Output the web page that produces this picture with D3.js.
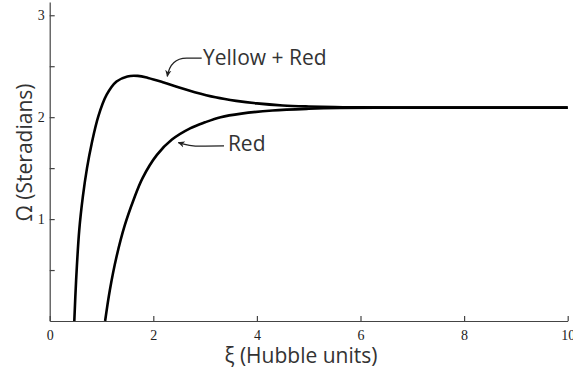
<!DOCTYPE html>
<html>
<head>
<meta charset="utf-8">
<script src="https://cdn.jsdelivr.net/npm/d3@7"></script>
<style>
  body { margin: 0; background: #fff; }
  .axis path, .axis line { stroke: #444; stroke-width: 1.2px; }
  .axis text { font-family: "Liberation Serif", serif; font-size: 14px; fill: #222; }
  .label { font-family: "Open Sans", sans-serif; font-size: 21px; fill: #333; }
</style>
</head>
<body>
<div class="root"></div>
<script>
// Yellow + Red curve
const xiYellowRed = [0.475, 0.51, 0.57, 0.64, 0.72, 0.81, 0.94, 1.10, 1.29, 1.50, 1.70, 1.90,
                     2.20, 2.50, 2.80, 3.20, 3.60, 4.00, 4.50, 5.00, 5.50, 6.00, 7.00, 8.00, 9.00, 10.00];
const omegaYellowRed = [0, 0.40, 0.89, 1.22, 1.50, 1.74, 2.01, 2.22, 2.35, 2.40, 2.405, 2.385,
                        2.34, 2.29, 2.245, 2.195, 2.16, 2.135, 2.115, 2.105, 2.099, 2.096, 2.094, 2.094, 2.094, 2.094];

// Red curve
const xiRed = [1.07, 1.16, 1.29, 1.45, 1.62, 1.79, 2.07, 2.36, 2.71, 3.00, 3.30, 3.70,
               4.30, 5.00, 5.60, 6.50, 7.50, 8.50, 10.00];
const omegaRed = [0, 0.30, 0.63, 0.94, 1.19, 1.40, 1.63, 1.78, 1.89, 1.95, 2.00, 2.035,
                  2.065, 2.082, 2.09, 2.094, 2.094, 2.094, 2.094];

// ticks
const xTicks = [0, 2, 4, 6, 8, 10];
const yTicks = [0.5, 1, 1.5, 2, 2.5, 3];
const yLabelled = [1, 2, 3];

const w = 573;
const h = 370;

const svg = d3.select(".root")
              .append("svg")
              .attr("width", w)
              .attr("height", h);

const xScale = d3.scaleLinear()
                 .domain([0, 10])
                 .range([49.7, 567.7]);

const yScale = d3.scaleLinear()
                 .domain([0, 3.13])
                 .range([321, 2]);

// arrow head for the call-outs
svg.append("defs")
   .append("marker")
   .attr("id", "arrow")
   .attr("viewBox", "0 0 10 10")
   .attr("refX", 9)
   .attr("refY", 5)
   .attr("markerWidth", 7)
   .attr("markerHeight", 7)
   .attr("markerUnits", "userSpaceOnUse")
   .attr("orient", "auto")
   .append("path")
   .attr("d", "M0,0.5 L10,5 L0,9.5 L3,5 z")
   .attr("fill", "#222");

// Add x Axis
const xAxis = d3.axisBottom(xScale)
                .tickValues(xTicks)
                .tickSize(-5)
                .tickSizeOuter(0)
                .tickPadding(9)
                .tickFormat(d3.format("d"));

svg.append("g")
   .attr("class", "axis")
   .attr("transform", "translate(0," + yScale(0) + ")")
   .call(xAxis);

// Add y Axis
const yAxis = d3.axisLeft(yScale)
                .tickValues(yTicks)
                .tickSize(-5)
                .tickSizeOuter(0)
                .tickPadding(5)
                .tickFormat((d) => yLabelled.includes(d) ? d : "");

svg.append("g")
   .attr("class", "axis")
   .attr("transform", "translate(" + xScale(0) + ",0)")
   .call(yAxis);

// curves
const line = d3.line()
               .x((d) => xScale(d[0]))
               .y((d) => yScale(d[1]))
               .curve(d3.curveCatmullRom.alpha(0.5));

const series = [
  d3.zip(xiYellowRed, omegaYellowRed),
  d3.zip(xiRed, omegaRed)
];

svg.selectAll(".curve")
   .data(series)
   .enter()
   .append("path")
   .attr("class", "curve")
   .attr("d", line)
   .attr("fill", "none")
   .attr("stroke", "#000")
   .attr("stroke-width", 2.6);

// call-outs
const callouts = [
  { text: "Yellow + Red", tx: 2.96, ty: 2.514, from: [2.934, 2.58], corner: [2.645, 2.58], ctrl: [2.33, 2.58], tip: [2.27, 2.40] },
  { text: "Red", tx: 3.44, ty: 1.67, from: [3.365, 1.718], corner: [3.0, 1.716], ctrl: [2.72, 1.71], tip: [2.483, 1.751] }
];

callouts.forEach((c) => {
  const p = d3.path();
  p.moveTo(xScale(c.from[0]), yScale(c.from[1]));
  p.lineTo(xScale(c.corner[0]), yScale(c.corner[1]));
  p.quadraticCurveTo(xScale(c.ctrl[0]), yScale(c.ctrl[1]), xScale(c.tip[0]), yScale(c.tip[1]));

  svg.append("path")
     .attr("d", p.toString())
     .attr("fill", "none")
     .attr("stroke", "#222")
     .attr("stroke-width", 1.3)
     .attr("marker-end", "url(#arrow)");

  svg.append("text")
     .attr("class", "label")
     .attr("x", xScale(c.tx))
     .attr("y", yScale(c.ty))
     .text(c.text);
});

// axis titles
svg.append("text")
   .attr("class", "label")
   .attr("text-anchor", "middle")
   .attr("x", 301)
   .attr("y", 363)
   .text("ξ (Hubble units)");

svg.append("text")
   .attr("class", "label")
   .attr("text-anchor", "middle")
   .attr("transform", "translate(32,152.5)rotate(-90)")
   .text("Ω (Steradians)");
</script>
</body>
</html>
